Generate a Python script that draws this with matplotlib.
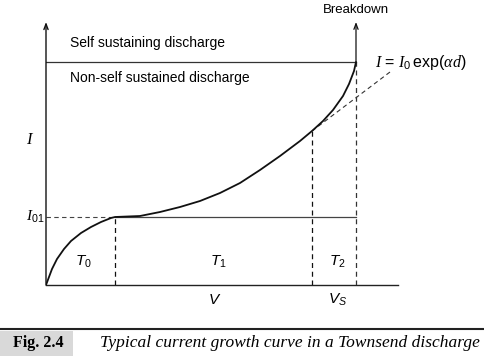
import matplotlib
matplotlib.use("Agg")
import matplotlib.pyplot as plt
from matplotlib.lines import Line2D
from matplotlib.patches import Rectangle

plt.rcParams['font.family'] = ['Liberation Sans', 'DejaVu Sans']
plt.rcParams['mathtext.fontset'] = 'custom'
plt.rcParams['mathtext.rm'] = 'Liberation Sans'
plt.rcParams['mathtext.it'] = 'Liberation Serif:italic'
plt.rcParams['mathtext.sf'] = 'Liberation Sans:italic'

# ---- data (V in arbitrary units, I in arbitrary units) ----
V_curve = [0, 3, 6, 11, 18, 25, 35, 45, 55, 65, 69, 94, 114, 134, 154, 174,
           194, 214, 234, 254, 266, 277, 287, 297, 303, 308, 310]
I_curve = [0, 8, 16, 26, 36, 44, 52, 58, 63, 67, 68, 69, 73, 78, 84, 92,
           102, 115, 129, 144, 154, 164, 175, 189, 201, 214, 223]
V_knee = 69          # end of T0 region
I01 = 68             # saturation current level
V_2 = 266            # start of T2 region
I_2 = 154
V_s = 310            # sparking (breakdown) voltage
I_break = 223        # self-sustaining level
V_tangent = [266, 344]
I_tangent = [154, 213]
V_max = 352
I_max = 263

region_labels = [r"$\mathsf{T}_{\mathrm{0}}$", r"$\mathsf{T}_{\mathrm{1}}$", r"$\mathsf{T}_{\mathrm{2}}$"]
region_pos = [37, 172, 291]

fig = plt.figure(figsize=(4.85, 3.56), dpi=100)
ax = fig.add_axes([46/485, (356-285)/356, 352/485, 263/356])
ax.set_xlim(0, V_max)
ax.set_ylim(0, I_max)
ax.axis('off')

k = '#111111'
# axes
ax.plot([0, V_max], [0, 0], color='#222222', lw=1.0, clip_on=False)
ax.annotate('', xy=(0, I_max), xytext=(0, 0),
            arrowprops=dict(arrowstyle='->,head_length=0.4,head_width=0.15', color=k, lw=1.0,
                            shrinkA=0, shrinkB=0))
# breakdown arrow
ax.annotate('', xy=(V_s, I_max), xytext=(V_s, I_break),
            arrowprops=dict(arrowstyle='->,head_length=0.4,head_width=0.15', color=k, lw=0.9,
                            shrinkA=0, shrinkB=0))
# self-sustaining boundary
ax.plot([0, V_s], [I_break, I_break], color='#333333', lw=0.9)
# I01 level
ax.plot([0, V_knee], [I01, I01], color='#444444', lw=0.8, ls=(0, (4, 3)))
ax.plot([V_knee, V_s], [I01, I01], color='#444444', lw=0.9)
# vertical dashed dividers
ax.plot([V_knee, V_knee], [0, I01], color=k, lw=0.9, ls=(0, (4, 3)))
ax.plot([V_2, V_2], [0, I_2], color=k, lw=0.9, ls=(0, (4, 3)))
ax.plot([V_s, V_s], [0, I_break], color='#333333', lw=0.9, ls=(0, (4, 3)))
# tangent (pure exponential)
ax.plot(V_tangent, I_tangent, color='#333333', lw=0.8, ls=(0, (4, 3)))
# main curve
ax.plot(V_curve, I_curve, color=k, lw=1.3, solid_capstyle='round', solid_joinstyle='round')

# texts
fs = 10
ax.text(V_s, 275, "Breakdown", ha='center', va='center', fontsize=9.5)
ax.text(24, 242, "Self sustaining discharge", ha='left', va='center', fontsize=fs)
ax.text(24, 207, "Non-self sustained discharge", ha='left', va='center', fontsize=fs)
ax.text(329, 223, r"$I$ = $I_0\,$exp($\alpha d$)", ha='left', va='center', fontsize=11.5)
ax.text(-16, 145, r"$I$", ha='center', va='center', fontsize=12)
ax.text(-2, I01, r"$I_{\mathrm{01}}$", ha='right', va='center', fontsize=11)
for lab, x in zip(region_labels, region_pos):
    ax.text(x, 23, lab, ha='center', va='center', fontsize=11)
ax.text(169, -15, r"$\mathsf{V}$", ha='center', va='center', fontsize=11)
ax.text(292, -15, r"$\mathsf{V}_{\mathsf{S}}$", ha='center', va='center', fontsize=11)

# caption
fig.add_artist(Line2D([0, 1], [1 - 329/356, 1 - 329/356], color='#222222', lw=1.5,
                      transform=fig.transFigure))
fig.add_artist(Rectangle((0, 0), 73/485, (356-331)/356, transform=fig.transFigure,
                         facecolor='#d9d9d9', edgecolor='none'))
fig.text(38/485, 1 - 343/356, "Fig. 2.4", ha='center', va='center', fontsize=11.5,
         fontweight='bold', family='Liberation Serif')
fig.text(100/485, 1 - 343/356, "Typical current growth curve in a Townsend discharge",
         ha='left', va='center', fontsize=12.5, style='italic', family='Liberation Serif')

fig.savefig("out.png", dpi=100)
